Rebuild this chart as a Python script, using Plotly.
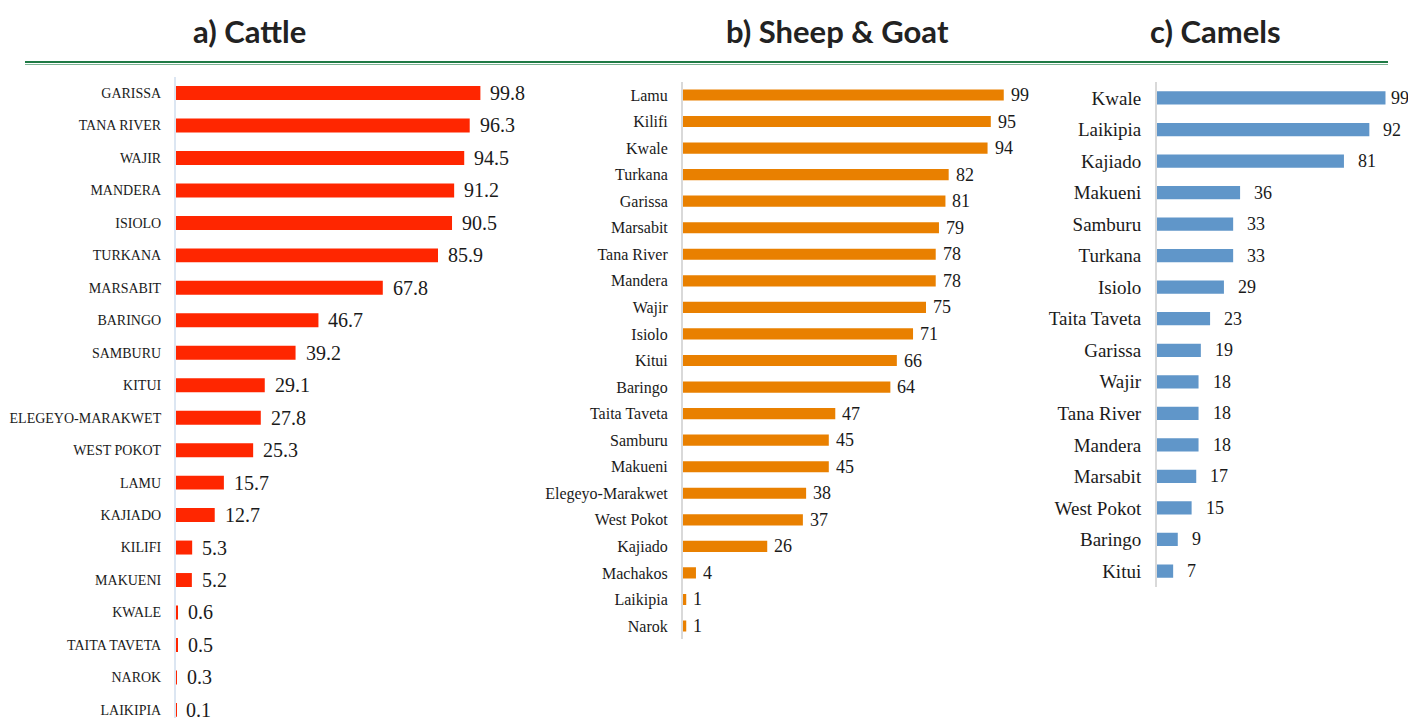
import plotly.graph_objects as go

W, H = 1408, 718

cattle_labels = ["GARISSA", "TANA RIVER", "WAJIR", "MANDERA", "ISIOLO", "TURKANA", "MARSABIT",
                 "BARINGO", "SAMBURU", "KITUI", "ELEGEYO-MARAKWET", "WEST POKOT", "LAMU",
                 "KAJIADO", "KILIFI", "MAKUENI", "KWALE", "TAITA TAVETA", "NAROK", "LAIKIPIA"]
cattle_values = [99.8, 96.3, 94.5, 91.2, 90.5, 85.9, 67.8, 46.7, 39.2, 29.1, 27.8, 25.3, 15.7,
                 12.7, 5.3, 5.2, 0.6, 0.5, 0.3, 0.1]

shoat_labels = ["Lamu", "Kilifi", "Kwale", "Turkana", "Garissa", "Marsabit", "Tana River",
                "Mandera", "Wajir", "Isiolo", "Kitui", "Baringo", "Taita Taveta", "Samburu",
                "Makueni", "Elegeyo-Marakwet", "West Pokot", "Kajiado", "Machakos", "Laikipia", "Narok"]
shoat_values = [99, 95, 94, 82, 81, 79, 78, 78, 75, 71, 66, 64, 47, 45, 45, 38, 37, 26, 4, 1, 1]

camel_labels = ["Kwale", "Laikipia", "Kajiado", "Makueni", "Samburu", "Turkana", "Isiolo",
                "Taita Taveta", "Garissa", "Wajir", "Tana River", "Mandera", "Marsabit",
                "West Pokot", "Baringo", "Kitui"]
camel_values = [99, 92, 81, 36, 33, 33, 29, 23, 19, 18, 18, 18, 17, 15, 9, 7]

titles = ["a) Cattle", "b) Sheep & Goat", "c) Camels"]


def px_x(v):
    return v / W


def px_y(v):
    return 1 - v / H


panels = [
    dict(labels=cattle_labels, values=cattle_values, color="#FF2600", title=titles[0],
         xdom=[176, 540], scale=3.05, ydom=[718, 76.8], yrange=[19.25, -0.5],
         tick_size=14, val_size=20, gap=8, width=0.43, axcolor="#DCE6F2", title_x=249),
    dict(labels=shoat_labels, values=shoat_values, color="#E98000", title=titles[1],
         xdom=[683, 1040], scale=3.24, ydom=[639.3, 81.7], yrange=[20.5, -0.5],
         tick_size=16, val_size=18, gap=5, width=0.42, axcolor="#D9D9D9", title_x=837),
    dict(labels=camel_labels, values=camel_values, color="#6096C9", title=titles[2],
         xdom=[1157, 1408], scale=2.308, ydom=[586.8, 82.2], yrange=[15.5, -0.5],
         tick_size=19, val_size=18, gap=12, width=0.42, axcolor="#D9D9D9", title_x=1215),
]

fig = go.Figure()
annotations = []
for i, p in enumerate(panels, start=1):
    xa = "x" if i == 1 else f"x{i}"
    ya = "y" if i == 1 else f"y{i}"
    fig.add_trace(go.Bar(
        x=p["values"], y=p["labels"], orientation="h",
        marker=dict(color=p["color"], line=dict(width=0)),
        width=p["width"], xaxis=xa, yaxis=ya, showlegend=False, hoverinfo="x+y",
    ))
    xmax = (p["xdom"][1] - p["xdom"][0]) / p["scale"]
    axk = "" if i == 1 else str(i)
    fig.layout[f"xaxis{axk}"] = dict(
        domain=[px_x(p["xdom"][0]), min(1, px_x(p["xdom"][1]))], range=[0, xmax],
        visible=False, anchor=ya, fixedrange=True)
    fig.layout[f"yaxis{axk}"] = dict(
        domain=[max(0, px_y(p["ydom"][0])), px_y(p["ydom"][1])], range=p["yrange"],
        type="category", anchor=xa, showline=True, linecolor=p["axcolor"], linewidth=2,
        showgrid=False, ticks="", ticklabelstandoff=10,
        tickfont=dict(family="Liberation Serif", size=p["tick_size"], color="#1a1a1a"),
        fixedrange=True)
    right_px = W
    for lab, v in zip(p["labels"], p["values"]):
        end_px = p["xdom"][0] + v * p["scale"]
        text = f"{v:g}"
        est_w = p["val_size"] * 0.52 * len(text)
        shift = min(p["gap"], right_px - end_px - est_w)
        annotations.append(dict(
            x=v, y=lab, xref=xa, yref=ya, text=text, showarrow=False,
            xanchor="left", yanchor="middle", xshift=max(shift, 1),
            font=dict(family="Liberation Serif", size=p["val_size"], color="#1a1a1a")))
    annotations.append(dict(
        x=px_x(p["title_x"]), y=px_y(31), xref="paper", yref="paper", text=f"<b>{p['title']}</b>",
        showarrow=False, xanchor="center", yanchor="middle",
        font=dict(family="Lato", size=31, color="#222222")))

shapes = [
    dict(type="line", xref="paper", yref="paper", x0=px_x(25), x1=px_x(1388),
         y0=px_y(62), y1=px_y(62), line=dict(color="#1F7A45", width=2)),
    dict(type="line", xref="paper", yref="paper", x0=px_x(25), x1=px_x(1388),
         y0=px_y(64.5), y1=px_y(64.5), line=dict(color="#7DB595", width=1)),
]

fig.update_layout(
    width=W, height=H, margin=dict(l=0, r=0, t=0, b=0),
    paper_bgcolor="white", plot_bgcolor="white",
    annotations=annotations, shapes=shapes, bargap=0.5,
)

fig.write_html("out.html", config={"displayModeBar": False},
               post_script="document.body.style.margin='0';document.body.style.overflow='hidden';")
